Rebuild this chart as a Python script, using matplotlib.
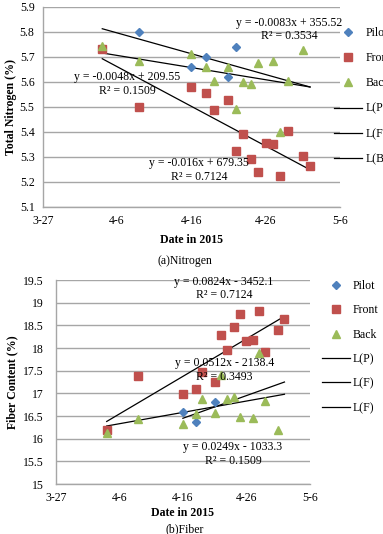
import datetime as dt
import matplotlib
matplotlib.use("Agg")
import matplotlib.pyplot as plt

plt.rcParams['font.family'] = ['Liberation Serif', 'DejaVu Serif']

# ---- data (month-day in 2015) ----
n_pilot_dates = ["4-9", "4-16", "4-18", "4-21", "4-22"]
n_pilot = [5.80, 5.66, 5.70, 5.62, 5.74]
n_front_dates = ["4-4", "4-9", "4-16", "4-18", "4-19", "4-21", "4-23", "4-22",
                 "4-24", "4-25", "4-26", "4-27", "4-28", "4-29", "5-1", "5-2"]
n_front = [5.73, 5.50, 5.58, 5.557, 5.487, 5.527, 5.393, 5.324,
           5.293, 5.239, 5.357, 5.35, 5.224, 5.404, 5.303, 5.263]
n_back_dates = ["4-4", "4-9", "4-16", "4-18", "4-19", "4-21", "4-22", "4-23",
                "4-24", "4-25", "4-27", "4-28", "4-29", "5-1"]
n_back = [5.743, 5.683, 5.711, 5.66, 5.604, 5.66, 5.493, 5.60,
          5.593, 5.676, 5.683, 5.40, 5.604, 5.729]
n_trend_dates = ["4-4", "5-2"]
n_trends = [[5.813, 5.58], [5.716, 5.58], [5.693, 5.249]]

f_pilot_dates = ["4-16", "4-18", "4-21"]
f_pilot = [16.58, 16.36, 16.80]
f_front_dates = ["4-4", "4-9", "4-16", "4-18", "4-19", "4-21", "4-22", "4-23",
                 "4-24", "4-25", "4-26", "4-27", "4-28", "4-29", "5-1", "5-2"]
f_front = [16.20, 17.38, 16.98, 17.10, 17.47, 17.26, 18.29, 17.95,
           18.46, 18.75, 18.15, 18.18, 18.82, 17.91, 18.40, 18.64]
f_back_dates = ["4-4", "4-9", "4-16", "4-18", "4-19", "4-21", "4-22", "4-23",
                "4-24", "4-25", "4-27", "4-28", "4-29", "5-1"]
f_back = [16.12, 16.43, 16.32, 16.54, 16.87, 16.56, 17.40, 16.88,
          16.93, 16.48, 16.45, 17.88, 16.83, 16.19]
f_trend_dates = [["4-4", "5-2"], ["4-16", "5-2"], ["4-4", "5-2"]]
f_trends = [[16.38, 18.70], [16.45, 17.25], [16.28, 16.98]]

tick_dates = ["3-27", "4-6", "4-16", "4-26", "5-6"]


def d(s):
    m, day = s.split("-")
    return dt.datetime(2015, int(m), int(day))


def ds(lst):
    return [d(s) for s in lst]


BLUE, RED, GREEN = "#4F81BD", "#C0504D", "#9BBB59"
GRID = "#A6A6A6"


def style_axes(ax, ylim, yticks, fmt, ypad):
    ax.set_xlim(d("3-27"), d("5-6"))
    ax.set_ylim(*ylim)
    ax.set_yticks(yticks)
    ax.set_yticklabels([fmt(v) for v in yticks], fontsize=8.5)
    ax.set_xticks(ds(tick_dates))
    ax.set_xticklabels(tick_dates, fontsize=8.5)
    ax.yaxis.grid(True, color=GRID, lw=1)
    ax.set_axisbelow(True)
    for s in ["top", "right"]:
        ax.spines[s].set_visible(False)
    for s in ["left", "bottom"]:
        ax.spines[s].set_color(GRID)
        ax.spines[s].set_linewidth(1)
    ax.tick_params(axis="x", length=0, pad=6)
    ax.tick_params(axis="y", length=0, pad=ypad)


fig = plt.figure(figsize=(3.83, 5.34), dpi=100)

# ---------- (a) Nitrogen ----------
ax1 = fig.add_axes([0.112, 0.6124, 0.775, 0.3745])
ax1.plot(ds(n_pilot_dates), n_pilot, "D", color=BLUE, ms=4.5, label="Pilot", zorder=3)
ax1.plot(ds(n_front_dates), n_front, "s", color=RED, ms=6, label="Front", zorder=3)
ax1.plot(ds(n_back_dates), n_back, "^", color=GREEN, ms=6, label="Back", zorder=3)
for lab, ys in zip(["L(P)", "L(F)", "L(B)"], n_trends):
    ax1.plot(ds(n_trend_dates), ys, "-", color="black", lw=0.9, label=lab, zorder=2)
style_axes(ax1, (5.1, 5.9), [5.1, 5.2, 5.3, 5.4, 5.5, 5.6, 5.7, 5.8, 5.9],
           lambda v: f"{v:.1f}", 6)
ax1.set_xlabel("Date in 2015", fontsize=8.5, fontweight="bold", labelpad=5)
ax1.set_ylabel("Total Nitrogen (%)", fontsize=8.5, fontweight="bold", labelpad=2)

tk = dict(fontsize=8.5, ha="center", va="center", transform=fig.transFigure)
fig.text(289 / 383, 1 - 23 / 534, "y = -0.0083x + 355.52", **tk)
fig.text(289 / 383, 1 - 36 / 534, "R² = 0.3534", **tk)
fig.text(127 / 383, 1 - 77 / 534, "y = -0.0048x + 209.55", **tk)
fig.text(127 / 383, 1 - 91 / 534, "R² = 0.1509", **tk)
fig.text(199 / 383, 1 - 163 / 534, "y = -0.016x + 679.35", **tk)
fig.text(199 / 383, 1 - 177 / 534, "R² = 0.7124", **tk)
fig.text(185 / 383, 1 - 261 / 534, "(a)Nitrogen", **tk)

ax1.legend(loc="upper left", bbox_to_anchor=(334 / 383, 1 - 27 / 534),
           bbox_transform=fig.transFigure, frameon=False, fontsize=8.5,
           labelspacing=1.12, handlelength=2.37, handletextpad=0.34,
           borderaxespad=0, borderpad=0)

# ---------- (b) Fiber ----------
ax2 = fig.add_axes([0.146, 0.0936, 0.663, 0.382])
ax2.plot(ds(f_pilot_dates), f_pilot, "D", color=BLUE, ms=4.5, label="Pilot", zorder=3)
ax2.plot(ds(f_front_dates), f_front, "s", color=RED, ms=6, label="Front", zorder=3)
ax2.plot(ds(f_back_dates), f_back, "^", color=GREEN, ms=6, label="Back", zorder=3)
for lab, xs, ys in zip(["L(P)", "L(F)", "L(F)"], f_trend_dates, f_trends):
    ax2.plot(ds(xs), ys, "-", color="black", lw=0.9, label=lab, zorder=2)
style_axes(ax2, (15, 19.5), [15, 15.5, 16, 16.5, 17, 17.5, 18, 18.5, 19, 19.5],
           lambda v: f"{v:g}", 9)
ax2.set_xlabel("Date in 2015", fontsize=8.5, fontweight="bold", labelpad=2)
ax2.set_ylabel("Fiber Content (%)", fontsize=8.5, fontweight="bold", labelpad=3)

fig.text(224 / 383, 1 - 282 / 534, "y = 0.0824x - 3452.1", **tk)
fig.text(224 / 383, 1 - 295 / 534, "R² = 0.7124", **tk)
fig.text(225 / 383, 1 - 363 / 534, "y = 0.0512x - 2138.4", **tk)
fig.text(224 / 383, 1 - 377 / 534, "R² = 0.3493", **tk)
fig.text(233 / 383, 1 - 447 / 534, "y = 0.0249x - 1033.3", **tk)
fig.text(233 / 383, 1 - 461 / 534, "R² = 0.1509", **tk)
fig.text(185 / 383, 1 - 529 / 534, "(b)Fiber", **tk)

ax2.legend(loc="upper left", bbox_to_anchor=(322 / 383, 1 - 280 / 534),
           bbox_transform=fig.transFigure, frameon=False, fontsize=8.5,
           labelspacing=1.05, handlelength=2.37, handletextpad=0.25,
           borderaxespad=0, borderpad=0)

fig.savefig("out.png", dpi=100)
